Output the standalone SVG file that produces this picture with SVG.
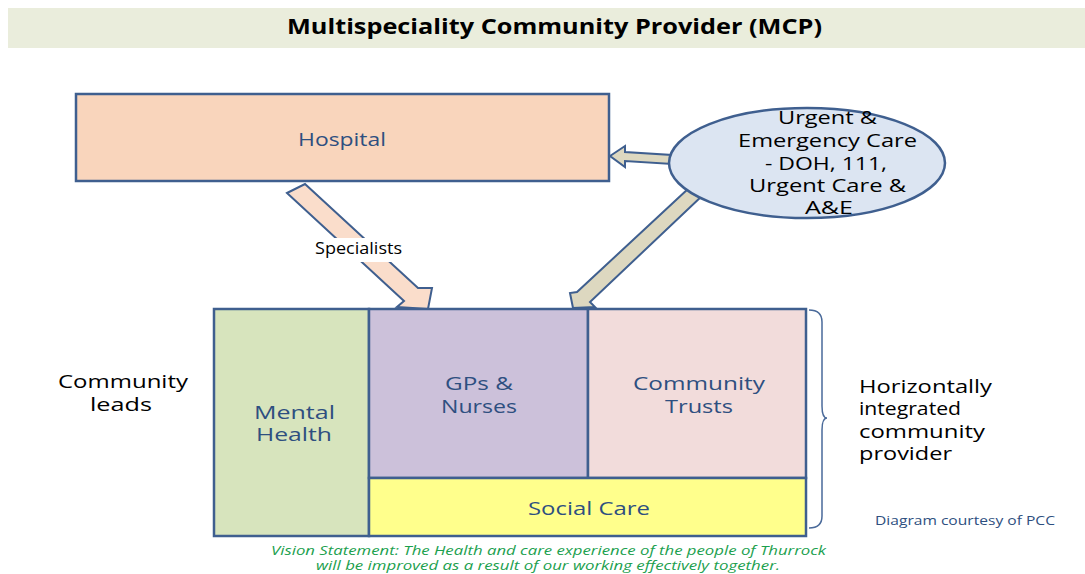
<svg xmlns="http://www.w3.org/2000/svg" width="1085" height="574" viewBox="0 0 1085 574">
<style>
text{font-family:"Open Sans","Liberation Sans",sans-serif}
.box{stroke:#3F5F8F;stroke-width:2.5}
.arr{stroke:#3F5F8F;stroke-width:2;stroke-linejoin:miter}
.blue{fill:#2E4F80;font-size:18px}
.blk{fill:#000;font-size:18px}
</style>
<rect x="8" y="8" width="1077" height="40" fill="#EAEDDC"/>
<text x="287" y="34" font-weight="bold" font-size="21" fill="#000" textLength="535" lengthAdjust="spacingAndGlyphs">Multispeciality Community Provider (MCP)</text>

<g id="connectors">
<polygon class="arr" fill="#FADDCB" points="287,193 305,184 418,288 432,288 428,309 397,307 404,301"/>
<polygon class="arr" fill="#DDD8C0" points="610,156 625,146 625,152 672,155 672,164 625,161 625,167"/>
<polygon class="arr" fill="#DDD8C0" points="573,308 570,293 577,292 689,188 703,195 590,302 595,307"/>
</g>

<g id="hospital">
<rect class="box" x="76" y="94" width="533" height="87" fill="#F9D5BC"/>
<text class="blue" x="298" y="146" textLength="88" lengthAdjust="spacingAndGlyphs">Hospital</text>
</g>

<g id="urgent">
<ellipse class="box" cx="807" cy="163" rx="138" ry="55" fill="#DCE5F2"/>
<text class="blk" x="778" y="124" textLength="99" lengthAdjust="spacingAndGlyphs">Urgent &amp;</text>
<text class="blk" x="738" y="147" textLength="179" lengthAdjust="spacingAndGlyphs">Emergency Care</text>
<text class="blk" x="765" y="170" textLength="122" lengthAdjust="spacingAndGlyphs">- DOH, 111,</text>
<text class="blk" x="749" y="192" textLength="157" lengthAdjust="spacingAndGlyphs">Urgent Care &amp;</text>
<text class="blk" x="805" y="214" textLength="48" lengthAdjust="spacingAndGlyphs">A&amp;E</text>
</g>

<g id="specialists-label">
<rect x="308" y="238" width="112" height="24" fill="#fff"/>
<text x="315" y="254" font-size="16" fill="#000" textLength="87" lengthAdjust="spacingAndGlyphs">Specialists</text>
</g>

<g id="mental-health">
<rect class="box" x="214" y="309" width="155" height="227" fill="#D7E4BD"/>
<text class="blue" x="254" y="419" textLength="81" lengthAdjust="spacingAndGlyphs">Mental</text>
<text class="blue" x="256" y="441" textLength="76" lengthAdjust="spacingAndGlyphs">Health</text>
</g>

<g id="gps-nurses">
<rect class="box" x="369" y="309" width="219" height="169" fill="#CCC1DA"/>
<text class="blue" x="445" y="390" textLength="68" lengthAdjust="spacingAndGlyphs">GPs &amp;</text>
<text class="blue" x="441" y="413" textLength="76" lengthAdjust="spacingAndGlyphs">Nurses</text>
</g>

<g id="community-trusts">
<rect class="box" x="588" y="309" width="218" height="169" fill="#F2DCDB"/>
<text class="blue" x="633" y="390" textLength="132" lengthAdjust="spacingAndGlyphs">Community</text>
<text class="blue" x="665" y="413" textLength="68" lengthAdjust="spacingAndGlyphs">Trusts</text>
</g>

<g id="social-care">
<rect class="box" x="369" y="478" width="437" height="58" fill="#FFFF8C"/>
<text class="blue" x="528" y="515" textLength="122" lengthAdjust="spacingAndGlyphs">Social Care</text>
</g>

<g id="brace">
<path d="M809,310 Q822,310 822,322 L822,406 Q822,418 827,418 Q822,418 822,430 L822,516 Q822,528 809,528" fill="none" stroke="#4A6A9A" stroke-width="1.5"/>
</g>

<g id="community-leads">
<text class="blk" x="58" y="388" textLength="130" lengthAdjust="spacingAndGlyphs">Community</text>
<text class="blk" x="90" y="411" textLength="62" lengthAdjust="spacingAndGlyphs">leads</text>
</g>

<g id="horizontal">
<text class="blk" x="859" y="393" textLength="133" lengthAdjust="spacingAndGlyphs">Horizontally</text>
<text class="blk" x="859" y="415" textLength="102" lengthAdjust="spacingAndGlyphs">integrated</text>
<text class="blk" x="859" y="438" textLength="126" lengthAdjust="spacingAndGlyphs">community</text>
<text class="blk" x="859" y="460" textLength="93" lengthAdjust="spacingAndGlyphs">provider</text>
</g>

<text x="875" y="525" font-size="12.5" fill="#2E4F80" textLength="180" lengthAdjust="spacingAndGlyphs">Diagram courtesy of PCC</text>

<g id="vision" fill="#1BA04E" font-style="italic" font-size="12.5">
<text x="271" y="555" textLength="555" lengthAdjust="spacingAndGlyphs">Vision Statement: The Health and care experience of the people of Thurrock</text>
<text x="316" y="570" textLength="464" lengthAdjust="spacingAndGlyphs">will be improved as a result of our working effectively together.</text>
</g>
</svg>
